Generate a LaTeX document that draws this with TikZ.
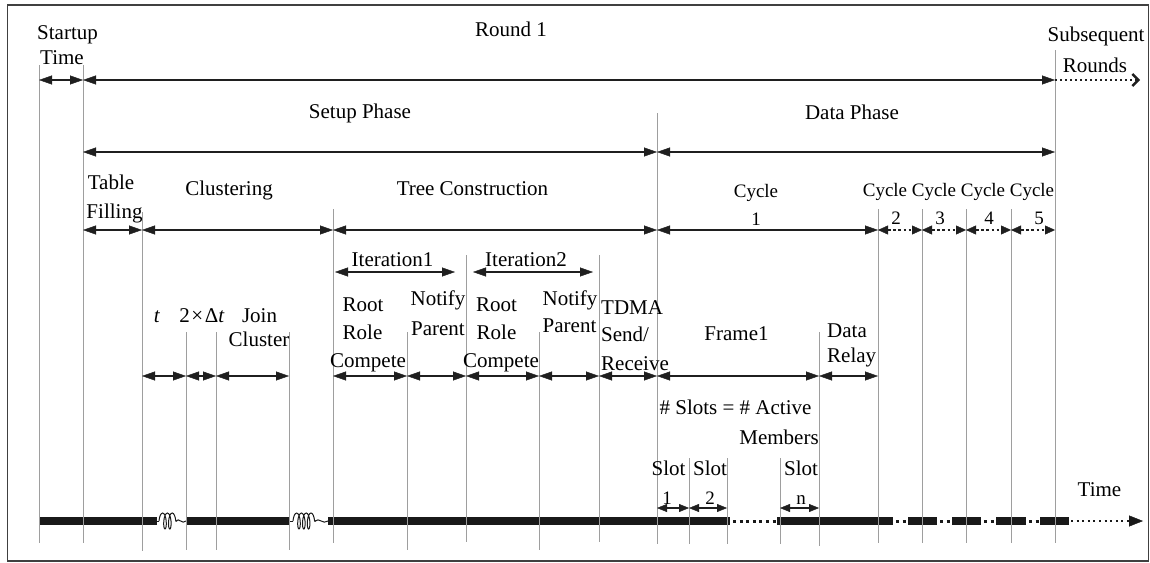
\documentclass[tikz,border=0pt]{standalone}
\usepackage{fontspec}
\setmainfont{Liberation Serif}
\usetikzlibrary{arrows.meta,decorations.pathmorphing}

\begin{document}
\begin{tikzpicture}[x=1pt,y=-1pt,
  lbl/.style={font=\fontsize{21}{25}\selectfont, inner sep=0pt, anchor=base},
  lbll/.style={lbl, anchor=base west},
  lbls/.style={font=\fontsize{19}{23}\selectfont, inner sep=0pt, anchor=base},
  guide/.style={draw=black!38, line width=0.9pt},
  span/.style={draw=black!88, line width=1.2pt, {Triangle[length=13pt,width=9pt,line width=0.4pt]}-{Triangle[length=13pt,width=9pt,line width=0.4pt]}},
  slotspan/.style={draw=black!88, line width=1.2pt, {Triangle[length=10pt,width=8pt,line width=0.4pt]}-{Triangle[length=10pt,width=8pt,line width=0.4pt]}},
  dotspan/.style={draw=black!88, line width=2.6pt, dash pattern=on 2.6pt off 2.6pt, {Triangle[length=10pt,width=9pt,line width=0.4pt]}-{Triangle[length=10pt,width=9pt,line width=0.4pt]}},
  bar/.style={draw=black!90, line width=8pt},
  bardots/.style={draw=black!90, line width=3pt, dash pattern=on 3pt off 3.6pt},
  spring/.style={draw=black!90, line width=1pt},
  coilpart/.style={spring, decorate, decoration={coil, amplitude=8pt, segment length=4.8pt, aspect=0.3}},
]
\useasboundingbox (0,0) rectangle (1150,562);

% outer frame
\draw[black!75, line width=1.5pt] (7.5,5) rectangle (1148.5,561);

% time marks (columns)
\coordinate (tStart)  at (39,0);
\coordinate (tRound)  at (83,0);
\coordinate (tClus)   at (142,0);
\coordinate (tDt)     at (186,0);
\coordinate (tJoin)   at (216,0);
\coordinate (tJoinE)  at (289,0);
\coordinate (tTree)   at (333,0);
\coordinate (tNotA)   at (407,0);
\coordinate (tItB)    at (466,0);
\coordinate (tNotB)   at (539,0);
\coordinate (tTdma)   at (599,0);
\coordinate (tData)   at (657,0);
\coordinate (tSlotB)  at (689,0);
\coordinate (tSlotBe) at (727,0);
\coordinate (tSlotN)  at (780,0);
\coordinate (tRelay)  at (819,0);
\coordinate (tCycB)   at (878,0);
\coordinate (tCycC)   at (922,0);
\coordinate (tCycD)   at (966,0);
\coordinate (tCycE)   at (1011,0);
\coordinate (tEnd)    at (1055,0);
\coordinate (tNext)   at (1140,0);

% rows
\coordinate (rRound) at (0,80);
\coordinate (rPhase) at (0,152);
\coordinate (rStage) at (0,230);
\coordinate (rIter)  at (0,272);
\coordinate (rStep)  at (0,376);
\coordinate (rSlot)  at (0,508);

% ---- time axis ----
\draw[bar] (39,521) -- (157,521);
\draw[spring] (157,521) -- (159,521);
\draw[coilpart] (159,521) -- (177,521);
\draw[spring] (176,521) .. controls (179,517) and (182,525) .. (186,521);
\draw[bar] (186,521) -- (289,521);
\draw[spring] (289,521) -- (293,521);
\draw[coilpart] (293,521) -- (316,521);
\draw[spring] (315,521) .. controls (319,517) and (323,525) .. (328,521);
\draw[bar] (328,521) -- (730,521);
\draw[bardots] (733,521) -- (777,521);
\draw[bar] (777,521) -- (893,521);
\draw[bardots] (896,521) -- (908,521);
\draw[bar] (908,521) -- (937,521);
\draw[bardots] (940,521) -- (952,521);
\draw[bar] (952,521) -- (981,521);
\draw[bardots] (984,521) -- (996,521);
\draw[bar] (996,521) -- (1026,521);
\draw[bardots] (1029,521) -- (1040,521);
\draw[bar] (1040,521) -- (1069,521);
\coordinate (axisEnd) at (1143,521);
\draw[draw=black!90, line width=2.6pt, dash pattern=on 2pt off 3.6pt,
      -{Triangle[length=14pt,width=11pt,line width=0.4pt]}] (1071,521) -- (axisEnd);

% ---- vertical guides ----
\foreach \c/\a/\b in {tStart/65/543, tRound/65/543, tClus/212/551, tDt/332/550,
    tJoin/332/550, tJoinE/332/550, tTree/209/543, tNotA/332/550, tItB/255/542,
    tNotB/332/550, tTdma/255/542, tData/113/544, tSlotB/458/544, tSlotBe/458/544,
    tSlotN/458/544, tRelay/332/546, tCycB/209/543, tCycC/209/543, tCycD/209/543,
    tCycE/209/543, tEnd/50/543}
  \draw[guide] (\c |- 0,\a) -- (\c |- 0,\b);

% ---- spans ----
\draw[span] (tStart |- rRound) -- (tRound |- rRound);
\draw[span] (tRound |- rRound) -- (tEnd |- rRound);
\draw[draw=black!88, line width=2.6pt, dash pattern=on 2.4pt off 2.6pt,
      -{Straight Barb[length=6pt,width=12pt,line width=2.4pt]}] (tEnd |- rRound) -- (tNext |- rRound);

\draw[span] (tRound |- rPhase) -- (tData |- rPhase);
\draw[span] (tData |- rPhase) -- (tEnd |- rPhase);

\draw[span] (tRound |- rStage) -- (tClus |- rStage);
\draw[span] (tClus |- rStage) -- (tTree |- rStage);
\draw[span] (tTree |- rStage) -- (tData |- rStage);
\draw[span] (tData |- rStage) -- (tCycB |- rStage);
\draw[dotspan] (tCycB |- rStage) -- (tCycC |- rStage);
\draw[dotspan] (tCycC |- rStage) -- (tCycD |- rStage);
\draw[dotspan] (tCycD |- rStage) -- (tCycE |- rStage);
\draw[dotspan] (tCycE |- rStage) -- (tEnd |- rStage);

\coordinate (itAs) at (335,272);
\coordinate (itAe) at (455,272);
\coordinate (itBs) at (473,272);
\coordinate (itBe) at (593,272);
\draw[span] (itAs) -- (itAe);
\draw[span] (itBs) -- (itBe);

\draw[span] (tClus |- rStep) -- (tDt |- rStep);
\draw[span] (tDt |- rStep) -- (tJoin |- rStep);
\draw[span] (tJoin |- rStep) -- (tJoinE |- rStep);
\draw[span] (tTree |- rStep) -- (tNotA |- rStep);
\draw[span] (tNotA |- rStep) -- (tItB |- rStep);
\draw[span] (tItB |- rStep) -- (tNotB |- rStep);
\draw[span] (tNotB |- rStep) -- (tTdma |- rStep);
\draw[span] (tTdma |- rStep) -- (tData |- rStep);
\draw[span] (tData |- rStep) -- (tRelay |- rStep);
\draw[span] (tRelay |- rStep) -- (tCycB |- rStep);

\draw[slotspan] (tData |- rSlot) -- (tSlotB |- rSlot);
\draw[slotspan] (tSlotB |- rSlot) -- (tSlotBe |- rSlot);
\draw[slotspan] (tSlotN |- rSlot) -- (tRelay |- rSlot);

% ---- labels ----
\node[lbl] (startA) at (67.5,39.3) {Startup};
\node[lbl] (startB) at (62,64) {Time};
\node[lbl] (round) at (511,36) {Round 1};
\node[lbl] (subsA) at (1096,41.7) {Subsequent};
\node[lbl] (subsB) at (1095,72.7) {Rounds};
\node[lbl] (setup) at (360,118.3) {Setup Phase};
\node[lbl] (dataph) at (852,119.3) {Data Phase};
\node[lbl] (tableA) at (111,189.3) {Table};
\node[lbl] (tableB) at (114.5,218) {Filling};
\node[lbl] (clus) at (229,195) {Clustering};
\node[lbl] (tree) at (472.5,195) {Tree Construction};

\node[lbls] (cycA) at (756,197) {Cycle};
\node[lbls] (cycAn) at (756,225.5) {1};
\node[lbls] (cycB) at (885,196.7) {Cycle};
\node[lbls] (cycC) at (934,196.7) {Cycle};
\node[lbls] (cycD) at (983,196.7) {Cycle};
\node[lbls] (cycE) at (1032,196.7) {Cycle};
\node[lbls] (cycBn) at (896,224) {2};
\node[lbls] (cycCn) at (940,224) {3};
\node[lbls] (cycDn) at (989,224) {4};
\node[lbls] (cycEn) at (1039,224) {5};

\node[lbl] (iterA) at (392.5,266) {Iteration1};
\node[lbl] (iterB) at (526,266) {Iteration2};

\node[lbl] (waitT) at (157,322.7) {\textit{t}};
\node[lbl] (waitD) at (202,322.7) {2{\kern1.5pt}×{\kern1.5pt}Δ\textit{t}};
\node[lbl] (joinA) at (259.5,322.7) {Join};
\node[lbl] (joinB) at (259,346.7) {Cluster};

\node[lbl] (rootA1) at (363,311.7) {Root};
\node[lbl] (rootA2) at (362.5,339.3) {Role};
\node[lbl] (rootA3) at (368,367.5) {Compete};
\node[lbl] (notA1) at (438,305.7) {Notify};
\node[lbl] (notA2) at (438,335) {Parent};

\node[lbl] (rootB1) at (496.5,311.7) {Root};
\node[lbl] (rootB2) at (496.5,339.3) {Role};
\node[lbl] (rootB3) at (501,367.5) {Compete};
\node[lbl] (notB1) at (570,305) {Notify};
\node[lbl] (notB2) at (569.5,332.7) {Parent};

\node[lbll] (tdmaA) at (601,314) {TDMA};
\node[lbll] (tdmaB) at (601,341.7) {Send/};
\node[lbll] (tdmaC) at (601,370) {Receive};

\node[lbl] (frame) at (736.5,340) {Frame1};
\node[lbll] (relayA) at (827,337.7) {Data};
\node[lbll] (relayB) at (827,362.3) {Relay};

\node[lbl] (slotsA) at (735.5,414.3) {\# Slots = \# Active};
\node[lbl] (slotsB) at (779,444) {Members};

\node[lbl] (slotA) at (668.5,475) {Slot};
\node[lbls] (slotAn) at (667,504) {1};
\node[lbl] (slotB) at (710,475) {Slot};
\node[lbls] (slotBn) at (710,504) {2};
\node[lbl] (slotN) at (801,475) {Slot};
\node[lbls] (slotNn) at (801,504) {n};

\node[lbl] (timeax) at (1099.5,496.7) {Time};
\end{tikzpicture}
\end{document}
